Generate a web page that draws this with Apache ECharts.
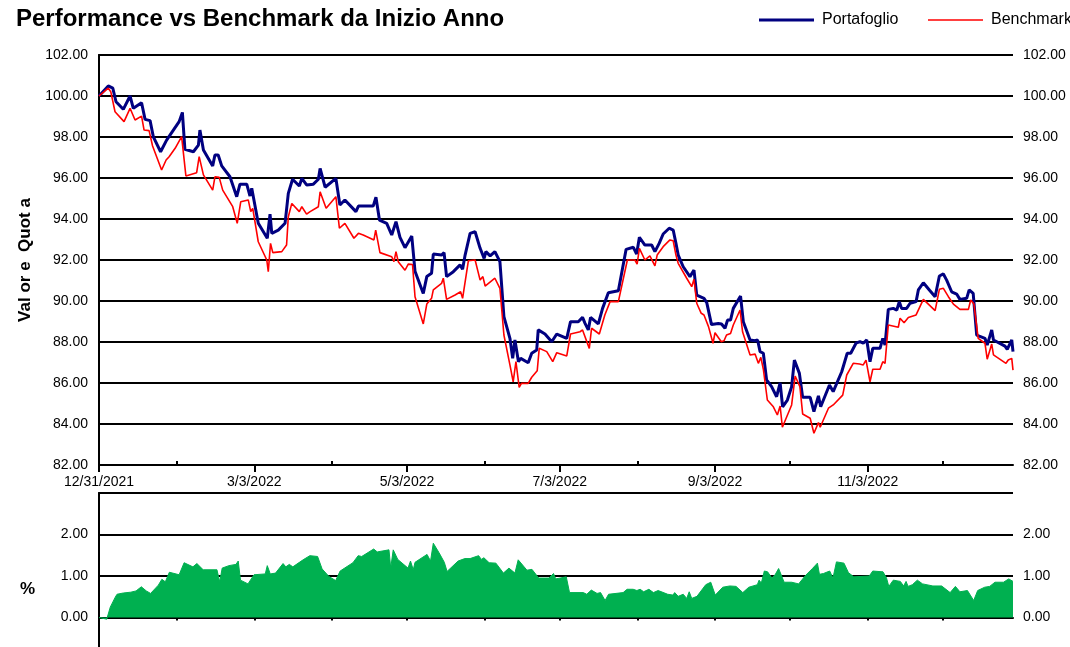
<!DOCTYPE html>
<html>
<head>
<meta charset="utf-8">
<script src="https://cdn.jsdelivr.net/npm/echarts@6/dist/echarts.min.js"></script>
<style>html,body{margin:0;padding:0;background:#fff}#c{width:1070px;height:647px}</style>
</head>
<body>
<div id="c"></div>
<script>
const titleText = 'Performance vs Benchmark da Inizio Anno';
const seriesNames = ['Portafoglio', 'Benchmark'];
const yNameMain = 'Val or e  Quot a';
const yNameDiff = '%';
// x values are days since 12/31/2021
const tickLabels = ['12/31/2021', '3/3/2022', '5/3/2022', '7/3/2022', '9/3/2022', '11/3/2022'];
const labelDays = [0, 62, 123, 184, 246, 307];
const minorDays = [31, 93, 154, 215, 276, 337];
const monthDays = [0, 31, 62, 93, 123, 154, 184, 215, 246, 276, 307, 337];

// [day, value]
const portafoglio = [[0,100.0],[3.7,100.49],[5.5,100.38],[6.8,99.72],[9.7,99.35],[12.4,100.0],[13.7,99.4],[17,99.67],[18.4,98.86],[20.4,98.8],[21.7,98.01],[24.6,97.28],[27,97.85],[32,98.75],[33.3,99.2],[34.3,97.4],[37.7,97.28],[39.7,97.6],[40.3,98.34],[41.7,97.37],[45.4,96.59],[46.3,97.12],[47.6,97.12],[49,96.59],[52.3,96.06],[55,95.09],[56.3,95.7],[59,95.7],[60.3,95.12],[61,95.5],[63.6,93.79],[67.2,93.06],[68.3,94.24],[69,93.3],[71.6,93.46],[74.3,93.79],[75.6,95.25],[77.3,95.94],[80,95.61],[81,95.98],[82.9,95.66],[85.6,95.7],[87.6,95.94],[88.3,96.47],[90.3,95.55],[94.6,95.98],[96.2,94.68],[98.2,94.93],[102.6,94.36],[103.6,94.63],[109.5,94.63],[110.6,95.06],[112,93.95],[114.9,93.79],[116.9,93.22],[118.6,93.87],[120.2,93.1],[122.2,92.6],[124.9,93.17],[126.2,91.45],[129.5,90.37],[130.9,91.19],[132.8,91.35],[133.5,92.29],[136.8,92.24],[137.8,92.36],[138.8,91.19],[141.5,91.43],[144.2,91.76],[145.2,91.55],[146.2,92.24],[148.2,93.3],[150.2,93.38],[152.2,92.57],[153.8,92.08],[154.5,92.41],[156.2,92.2],[158.1,92.41],[160.1,91.92],[161.7,89.24],[164.1,88.18],[165.2,87.2],[166.1,88.1],[167.5,87.04],[168.4,87.2],[171.4,86.99],[172.8,87.45],[174.8,87.61],[175.4,88.59],[178.1,88.39],[180.8,88.01],[182.8,88.39],[186.8,88.18],[188.3,88.99],[191.4,88.99],[193.1,89.2],[194.1,88.91],[195.4,88.59],[196.3,89.2],[199.4,88.88],[201.1,89.64],[203.4,90.4],[207.4,90.5],[210.5,92.52],[213.4,92.62],[214.7,92.29],[215.8,93.11],[218,92.73],[220.7,92.73],[222,92.41],[223.7,92.81],[225.3,93.27],[227.7,93.55],[229.3,93.46],[230.4,92.81],[231.3,92.24],[233.3,91.67],[236,91.19],[237.6,91.51],[238.7,90.29],[241.6,90.13],[242.7,89.92],[244.6,88.85],[247.3,88.9],[248.6,88.88],[250,88.67],[251,89.07],[252.2,89.07],[253.3,89.64],[256.2,90.24],[257.3,88.99],[260,88.1],[262,88.06],[263,88.1],[264,87.53],[265.3,87.45],[266.6,86.15],[268.6,85.82],[270.6,85.33],[272,86.01],[273,84.84],[274.9,85.17],[276.6,85.82],[277.7,87.12],[279.7,86.47],[281,85.3],[284,85.3],[285.5,84.6],[287.3,85.37],[288.2,84.84],[291.7,85.9],[293.2,85.58],[296.6,86.55],[298.8,87.45],[300.2,87.45],[302.3,87.94],[303.9,88.02],[305.2,87.94],[306.6,88.1],[307.9,87.04],[309,87.69],[311.9,87.69],[313,88.18],[313.9,87.85],[315.2,89.59],[317.2,89.64],[318.6,89.56],[319.6,89.97],[320.5,89.64],[322.5,89.64],[323.9,89.89],[326.3,89.97],[327.2,90.54],[329.2,90.89],[331.6,90.54],[333.9,90.21],[335.6,91.22],[337.2,91.32],[338.5,91.02],[340.5,90.45],[342.5,90.34],[343.8,90.08],[346.5,90.13],[347.5,90.54],[349.1,90.37],[350.5,88.34],[353.8,88.18],[354.7,87.85],[356.5,88.59],[357.2,88.1],[361.8,87.8],[362.7,87.64],[364.5,88.1],[365,87.53]];

const benchmark = [[0,100.0],[3.7,100.38],[4.7,100.21],[6.4,99.23],[10,98.75],[12.4,99.4],[14.4,98.83],[17,99.02],[18,98.34],[20,98.31],[21.4,97.56],[25,96.39],[26.8,96.88],[28,97.04],[30.4,97.45],[33,98.02],[34.7,96.1],[39,96.26],[40,97.04],[41.7,96.15],[45.4,95.41],[46.3,96.06],[48,96.03],[49.4,95.41],[53.4,94.6],[55.2,93.79],[56.6,94.84],[59.6,94.93],[60.6,94.36],[61.4,94.52],[63.6,92.89],[67,92.0],[67.6,91.43],[68.5,92.81],[69.4,92.36],[73,92.41],[74.9,92.73],[75.6,94.11],[77,94.76],[80,94.36],[81,94.6],[82.9,94.24],[84.3,94.36],[87.6,94.6],[88.3,95.33],[90.7,94.52],[94.6,95.09],[96,93.55],[98.2,93.79],[101.8,93.06],[103.6,93.3],[105.5,93.22],[109.8,92.98],[110.5,93.46],[112.2,92.36],[116.9,92.16],[117.8,91.92],[118.6,92.41],[119.5,91.92],[122.2,91.5],[123.5,91.8],[125.2,91.78],[126.2,90.21],[129.5,88.88],[130.9,89.85],[132.8,90.13],[133.5,90.54],[136.8,90.86],[137.5,91.11],[138.8,90.08],[142.2,90.29],[144.4,90.45],[145.2,90.13],[147.5,91.96],[150.2,92.0],[152.2,91.02],[153.3,91.19],[154.2,90.73],[158.1,91.11],[160.1,90.62],[161.7,88.34],[164.1,86.88],[165.4,86.06],[166.5,87.04],[167.8,85.79],[168.7,85.98],[171.4,85.98],[172.8,86.28],[175,86.6],[175.8,87.69],[178.8,87.53],[181.2,87.04],[182.8,87.48],[186.8,87.32],[188.3,88.39],[192.1,88.5],[193.1,88.59],[195.8,87.69],[196.7,88.67],[199.8,88.39],[202,89.32],[204.1,89.97],[207.4,89.97],[211,92.0],[214,92.0],[214.9,91.8],[215.8,92.57],[218,92.0],[220,92.2],[222,91.71],[222.9,92.24],[225.3,92.65],[228,92.98],[229.3,92.94],[230.4,92.24],[231.3,91.84],[234.7,91.11],[236.7,90.7],[237.6,91.06],[238.7,89.89],[240.5,89.4],[241.6,89.32],[243.4,88.75],[245.2,87.94],[246,88.45],[248.5,88.01],[249.6,88.06],[250.6,88.34],[252.2,88.42],[253.3,88.83],[256,89.56],[257,88.5],[260,87.37],[262,87.41],[263.3,86.96],[264.3,87.25],[265.3,86.67],[266.9,85.17],[269.3,84.84],[270.9,84.44],[272,84.88],[272.9,83.84],[276.6,84.93],[278,86.34],[279.9,85.82],[281,84.49],[284,84.28],[285.5,83.55],[287.3,84.07],[288,83.84],[291.3,84.77],[293.2,84.93],[297,85.41],[298.6,86.39],[301.2,86.96],[303.7,86.93],[305.2,86.88],[306.3,87.12],[307.9,86.06],[309,86.67],[311.9,86.67],[313,87.04],[313.9,86.96],[315.2,88.83],[319.2,88.72],[319.9,89.16],[321.5,88.94],[323.2,89.2],[326.3,89.32],[329.2,90.08],[333.9,89.53],[335.6,90.57],[337.2,90.62],[339.2,90.21],[341.2,89.85],[343.8,89.59],[347.2,89.59],[348.1,90.05],[349.4,89.85],[351.1,88.18],[353.8,87.94],[354.7,87.16],[356.5,87.9],[357.2,87.37],[362.2,86.96],[363.1,87.12],[364.5,87.2],[365,86.63]];

const differenza = [[0,0.0],[3.1,-0.04],[4.5,0.25],[6.5,0.49],[7.2,0.56],[9.7,0.59],[12.7,0.61],[14.8,0.64],[16.9,0.74],[18.9,0.64],[20.6,0.58],[23.7,0.78],[25.1,0.92],[26.5,0.86],[28.1,1.09],[32,1.03],[34,1.32],[37.5,1.22],[39.1,1.3],[41.6,1.15],[47.1,1.15],[48.2,0.86],[49.2,1.19],[51.9,1.25],[54.7,1.28],[55.6,1.36],[56.5,0.9],[59.5,0.81],[61.9,1.03],[66.4,1.05],[67.2,1.25],[68.4,1.05],[70.5,1.07],[73.5,1.3],[74.6,1.22],[76,1.28],[77.4,1.22],[81.5,1.39],[84.2,1.49],[87.3,1.47],[89.1,1.17],[91.8,0.99],[94.5,0.89],[96.3,1.12],[101.4,1.32],[103.5,1.49],[104.9,1.47],[109.7,1.65],[111.1,1.58],[115.8,1.63],[116.5,1.19],[117.5,1.63],[119.3,1.4],[123.4,1.19],[124.4,1.36],[125.5,1.15],[126.2,1.33],[131,1.52],[132.4,1.36],[133.5,1.79],[135.8,1.56],[137.9,1.33],[139,1.11],[143.4,1.36],[146.1,1.42],[148.2,1.42],[151.6,1.49],[152.7,1.4],[153.7,1.44],[155.8,1.32],[158.5,1.31],[161.5,1.07],[163.7,1.19],[166.1,1.07],[167.4,1.39],[170.9,1.14],[172.9,1.16],[175.6,0.95],[179.7,0.95],[181.5,1.06],[182.4,0.93],[186.6,0.98],[187.9,0.6],[193.4,0.6],[194.8,0.56],[196.6,0.66],[198.9,0.58],[200.3,0.6],[202.1,0.41],[203.5,0.56],[209.3,0.6],[210.9,0.68],[213.3,0.68],[214.8,0.65],[216.1,0.68],[217.5,0.62],[219.6,0.68],[221.4,0.6],[223.3,0.65],[227.1,0.56],[229.2,0.54],[229.9,0.6],[231.3,0.51],[233.3,0.56],[234.7,0.46],[235.7,0.62],[236.7,0.46],[238.8,0.51],[242.3,0.79],[244.3,0.85],[246.1,0.54],[249.1,0.73],[251.9,0.76],[254.4,0.75],[257.1,0.6],[259.5,0.73],[262.9,0.79],[263.6,0.9],[264.5,0.83],[265.7,1.12],[267,1.1],[268.7,0.95],[270.1,1.04],[271.4,1.18],[273.6,0.85],[276.6,0.85],[279.4,0.81],[282.1,1.01],[284.9,1.18],[286.9,1.31],[287.7,1.04],[289.3,1.06],[291.8,1.12],[293.1,0.95],[294.5,1.34],[297.5,1.31],[299.3,1.08],[301.4,0.98],[307.6,1.0],[309,1.12],[313.1,1.1],[314.5,0.95],[315.4,0.75],[317.2,0.9],[320,0.87],[321.3,0.76],[322.3,0.87],[323.1,0.75],[324.8,0.79],[326.8,0.9],[328.9,0.81],[333,0.76],[336.5,0.76],[339.9,0.6],[342,0.75],[343.8,0.62],[346.8,0.65],[349.3,0.41],[350.9,0.65],[353.7,0.73],[355.7,0.75],[357.8,0.85],[361.2,0.85],[363.3,0.93],[365,0.87]];

const FONT = '"Liberation Sans", Arial, Helvetica, sans-serif';
const BLACK = '#000';
const BLUE = '#000080';
const RED = '#FF0000';
const GREEN = '#00B050';
const fmt2 = v => v.toFixed(2);
const labelStyle = { fontFamily: FONT, fontSize: 14, color: BLACK };

function xAx(grid, pos, opts) {
  return Object.assign({
    type: 'value', gridIndex: grid, min: 0, max: 365, position: pos,
    splitLine: { show: false },
    axisLine: { show: false },
    axisLabel: { show: false }
  }, opts);
}

function legendFor(name, left, color, h, top) {
  return {
    data: [{ name: name, icon: 'rect', itemStyle: { color: color } }],
    left: left, top: top, padding: 0, itemWidth: 55, itemHeight: h,
    textStyle: { fontFamily: FONT, fontSize: 16, color: BLACK, padding: [0, 0, 0, 3] }
  };
}

const chart = echarts.init(document.getElementById('c'), null, { renderer: 'canvas' });
chart.setOption({
  animation: false,
  backgroundColor: '#fff',
  title: {
    text: titleText, left: 16, top: 7, padding: 0,
    textStyle: { fontFamily: FONT, fontSize: 24, fontWeight: 'bold', color: BLACK }
  },
  legend: [
    legendFor(seriesNames[0], 759, BLUE, 3, 12),
    legendFor(seriesNames[1], 928, RED, 1.5, 12)
  ],
  grid: [
    { left: 99, top: 55, width: 914, height: 410, containLabel: false, outerBoundsMode: 'none' },
    { left: 99, top: 493, width: 914, height: 207.5, containLabel: false, outerBoundsMode: 'none' }
  ],
  xAxis: [
    xAx(0, 'bottom', {
      axisLine: { show: true, lineStyle: { color: BLACK, width: 2 } },
      axisTick: { show: true, inside: false, length: 7, customValues: labelDays, lineStyle: { color: BLACK, width: 2 } },
      axisLabel: Object.assign({ show: true, margin: 10, customValues: labelDays,
        formatter: v => { const i = labelDays.indexOf(v); return i >= 0 ? tickLabels[i] : ''; } }, labelStyle)
    }),
    xAx(0, 'bottom', {
      axisTick: { show: true, inside: true, length: 4, customValues: minorDays, lineStyle: { color: BLACK, width: 2 } }
    }),
    xAx(1, 'top', {
      axisLine: { show: true, lineStyle: { color: BLACK, width: 2 } },
      axisTick: { show: true, inside: false, length: 3, customValues: monthDays, lineStyle: { color: BLACK, width: 2 } }
    }),
    xAx(1, 'top', {
      axisTick: { show: true, inside: true, length: 3, customValues: monthDays, lineStyle: { color: BLACK, width: 2 } }
    })
  ],
  yAxis: [
    { type: 'value', gridIndex: 0, position: 'left', min: 82, max: 102, interval: 2,
      axisLine: { show: true, lineStyle: { color: BLACK, width: 2 } }, axisTick: { show: false },
      axisLabel: Object.assign({ margin: 11, formatter: fmt2 }, labelStyle),
      splitLine: { show: true, lineStyle: { color: BLACK, width: 2 } },
      name: yNameMain, nameLocation: 'middle', nameGap: 61,
      nameTextStyle: { fontFamily: FONT, fontSize: 17, fontWeight: 'bold', color: BLACK } },
    { type: 'value', gridIndex: 0, position: 'right', min: 82, max: 102, interval: 2,
      axisLine: { show: true, lineStyle: { color: BLACK, width: 2 } }, axisTick: { show: false },
      axisLabel: Object.assign({ margin: 10, formatter: fmt2 }, labelStyle),
      splitLine: { show: false } },
    { type: 'value', gridIndex: 1, position: 'left', min: -2, max: 3, interval: 1,
      axisLine: { show: true, lineStyle: { color: BLACK, width: 2 } }, axisTick: { show: false },
      axisLabel: Object.assign({ margin: 11, formatter: v => (v >= 0 && v <= 2) ? fmt2(v) : '' }, labelStyle),
      splitLine: { show: true, lineStyle: { color: BLACK, width: 2 } },
      name: yNameDiff, nameLocation: 'middle', nameRotate: 0, nameGap: 64,
      nameTextStyle: { fontFamily: FONT, fontSize: 17, fontWeight: 'bold', color: BLACK, verticalAlign: 'bottom', lineHeight: 14 } },
    { type: 'value', gridIndex: 1, position: 'right', min: -2, max: 3, interval: 1,
      axisLine: { show: true, lineStyle: { color: BLACK, width: 2 } }, axisTick: { show: false },
      axisLabel: Object.assign({ margin: 10, formatter: v => (v >= 0 && v <= 2) ? fmt2(v) : '' }, labelStyle),
      splitLine: { show: false } }
  ],
  series: [
    { name: seriesNames[0], type: 'line', xAxisIndex: 0, yAxisIndex: 0, data: portafoglio,
      symbol: 'none', showSymbol: false, color: BLUE,
      lineStyle: { color: BLUE, width: 3 }, z: 3 },
    { name: seriesNames[1], type: 'line', xAxisIndex: 0, yAxisIndex: 0, data: benchmark,
      symbol: 'none', showSymbol: false, color: RED,
      lineStyle: { color: RED, width: 1.6 }, z: 4 },
    { name: 'Differenza', type: 'line', xAxisIndex: 2, yAxisIndex: 2, data: differenza,
      symbol: 'none', showSymbol: false, color: GREEN,
      lineStyle: { color: GREEN, width: 1 },
      areaStyle: { color: GREEN, opacity: 1, origin: 0 }, z: 3 }
  ]
});
</script>
</body>
</html>
